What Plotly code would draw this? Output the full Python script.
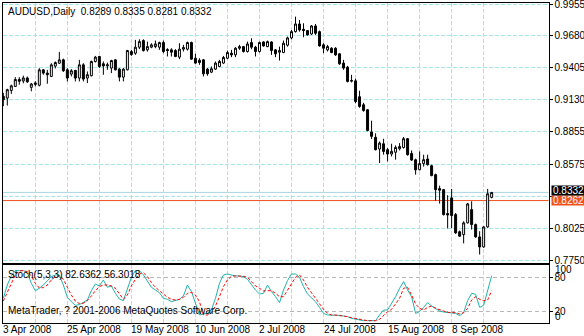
import plotly.graph_objects as go
import pandas as pd

symbol = "AUDUSD,Daily"
start_date = "2008-04-03"

open_ = [0.9160, 0.9145, 0.9210, 0.9245, 0.9305, 0.9292, 0.9318, 0.9237, 0.9262, 0.9255,
         0.9388, 0.9360, 0.9331, 0.9420, 0.9445, 0.9474, 0.9388, 0.9351, 0.9383, 0.9317,
         0.9431, 0.9317, 0.9337, 0.9460, 0.9503, 0.9440, 0.9422, 0.9403, 0.9474, 0.9394,
         0.9325, 0.9388, 0.9545, 0.9531, 0.9583, 0.9640, 0.9560, 0.9583, 0.9588, 0.9583,
         0.9623, 0.9563, 0.9560, 0.9554, 0.9497, 0.9566, 0.9566, 0.9623, 0.9488, 0.9471,
         0.9474, 0.9394, 0.9368, 0.9394, 0.9417, 0.9446, 0.9488, 0.9531, 0.9517, 0.9574,
         0.9588, 0.9546, 0.9623, 0.9583, 0.9546, 0.9628, 0.9588, 0.9628, 0.9560, 0.9540,
         0.9537, 0.9600, 0.9663, 0.9717, 0.9783, 0.9737, 0.9726, 0.9697, 0.9766, 0.9717,
         0.9603, 0.9560, 0.9574, 0.9574, 0.9526, 0.9446, 0.9411, 0.9290, 0.9293, 0.9156,
         0.9087, 0.9044, 0.8853, 0.8807, 0.8706, 0.8751, 0.8700, 0.8663, 0.8678, 0.8708,
         0.8719, 0.8795, 0.8668, 0.8613, 0.8528, 0.8580, 0.8620, 0.8562, 0.8485, 0.8365,
         0.8356, 0.8150, 0.8285, 0.8141, 0.7993, 0.7969, 0.8070, 0.8184, 0.8055, 0.7949,
         0.7863, 0.8035, 0.8289]
high = [0.9190, 0.9225, 0.9260, 0.9325, 0.9325, 0.9338, 0.9330, 0.9275, 0.9290, 0.9402,
        0.9394, 0.9388, 0.9445, 0.9460, 0.9543, 0.9485, 0.9403, 0.9394, 0.9388, 0.9474,
        0.9445, 0.9374, 0.9468, 0.9508, 0.9508, 0.9460, 0.9451, 0.9474, 0.9480, 0.9403,
        0.9403, 0.9560, 0.9560, 0.9646, 0.9651, 0.9651, 0.9631, 0.9617, 0.9640, 0.9631,
        0.9640, 0.9574, 0.9574, 0.9566, 0.9617, 0.9603, 0.9631, 0.9631, 0.9526, 0.9488,
        0.9480, 0.9403, 0.9417, 0.9460, 0.9474, 0.9508, 0.9554, 0.9560, 0.9583, 0.9603,
        0.9594, 0.9631, 0.9660, 0.9594, 0.9631, 0.9634, 0.9640, 0.9634, 0.9566, 0.9588,
        0.9640, 0.9674, 0.9731, 0.9846, 0.9817, 0.9789, 0.9731, 0.9774, 0.9783, 0.9726,
        0.9617, 0.9603, 0.9583, 0.9583, 0.9531, 0.9474, 0.9422, 0.9345, 0.9311, 0.9208,
        0.9104, 0.9050, 0.8950, 0.8841, 0.8771, 0.8794, 0.8715, 0.8751, 0.8737, 0.8757,
        0.8810, 0.8801, 0.8694, 0.8623, 0.8686, 0.8657, 0.8657, 0.8571, 0.8494, 0.8391,
        0.8362, 0.8308, 0.8362, 0.8155, 0.8004, 0.8084, 0.8242, 0.8256, 0.8064, 0.7998,
        0.8041, 0.8362, 0.8335]
low = [0.9075, 0.9080, 0.9180, 0.9240, 0.9260, 0.9272, 0.9275, 0.9203, 0.9245, 0.9245,
       0.9345, 0.9268, 0.9325, 0.9400, 0.9440, 0.9370, 0.9288, 0.9331, 0.9288, 0.9288,
       0.9288, 0.9274, 0.9331, 0.9451, 0.9403, 0.9345, 0.9388, 0.9360, 0.9383, 0.9288,
       0.9288, 0.9383, 0.9508, 0.9517, 0.9566, 0.9545, 0.9545, 0.9574, 0.9574, 0.9560,
       0.9531, 0.9503, 0.9503, 0.9497, 0.9480, 0.9546, 0.9554, 0.9474, 0.9440, 0.9431,
       0.9331, 0.9337, 0.9360, 0.9388, 0.9411, 0.9440, 0.9480, 0.9497, 0.9497, 0.9560,
       0.9537, 0.9537, 0.9566, 0.9503, 0.9537, 0.9588, 0.9583, 0.9517, 0.9497, 0.9468,
       0.9531, 0.9588, 0.9651, 0.9709, 0.9717, 0.9669, 0.9683, 0.9689, 0.9689, 0.9588,
       0.9531, 0.9546, 0.9531, 0.9508, 0.9431, 0.9388, 0.9280, 0.9279, 0.9100, 0.9061,
       0.9027, 0.8857, 0.8792, 0.8694, 0.8585, 0.8657, 0.8600, 0.8642, 0.8614, 0.8694,
       0.8710, 0.8649, 0.8603, 0.8485, 0.8522, 0.8554, 0.8562, 0.8471, 0.8262, 0.8236,
       0.8133, 0.8022, 0.8025, 0.7975, 0.7950, 0.7893, 0.8064, 0.8012, 0.7941, 0.7797,
       0.7855, 0.8027, 0.8281]
close = [0.9130, 0.9217, 0.9250, 0.9305, 0.9290, 0.9318, 0.9285, 0.9266, 0.9275, 0.9388,
         0.9360, 0.9346, 0.9431, 0.9451, 0.9474, 0.9380, 0.9317, 0.9380, 0.9317, 0.9431,
         0.9308, 0.9346, 0.9460, 0.9497, 0.9417, 0.9422, 0.9431, 0.9468, 0.9388, 0.9325,
         0.9394, 0.9554, 0.9520, 0.9583, 0.9631, 0.9554, 0.9588, 0.9603, 0.9611, 0.9623,
         0.9546, 0.9554, 0.9540, 0.9503, 0.9566, 0.9580, 0.9623, 0.9480, 0.9446, 0.9451,
         0.9354, 0.9354, 0.9397, 0.9446, 0.9460, 0.9494, 0.9537, 0.9517, 0.9574, 0.9588,
         0.9546, 0.9611, 0.9583, 0.9546, 0.9623, 0.9594, 0.9631, 0.9554, 0.9526, 0.9554,
         0.9617, 0.9663, 0.9717, 0.9783, 0.9731, 0.9726, 0.9689, 0.9766, 0.9703, 0.9594,
         0.9574, 0.9588, 0.9537, 0.9517, 0.9440, 0.9403, 0.9288, 0.9296, 0.9115, 0.9073,
         0.9038, 0.8866, 0.8815, 0.8700, 0.8757, 0.8685, 0.8663, 0.8686, 0.8720, 0.8728,
         0.8795, 0.8657, 0.8611, 0.8527, 0.8580, 0.8614, 0.8571, 0.8477, 0.8356, 0.8351,
         0.8141, 0.8138, 0.8133, 0.7984, 0.7955, 0.8070, 0.8233, 0.8055, 0.7949, 0.7863,
         0.8035, 0.8320, 0.8332]

stoch_k = [42.6, 66.3, 82.4, 91.9, 91.9, 91.9, 88.3, 69.3, 56.2, 60.4,
           66.3, 74.1, 81.2, 84.2, 84.2, 66.3, 44.4, 36.6, 30.1, 31.3,
           34.9, 39.6, 56.2, 68.1, 64.6, 75.2, 62.2, 64.6, 51.5, 41.4,
           38.4, 58.6, 80.0, 91.9, 91.9, 84.2, 73.5, 62.2, 57.4, 52.7,
           42.6, 40.8, 36.6, 38.4, 40.8, 46.7, 66.3, 54.5, 33.7, 12.9,
           14.7, 15.8, 21.8, 42.6, 69.3, 84.2, 85.9, 83.6, 82.4, 82.4,
           81.2, 76.4, 66.3, 57.4, 50.3, 51.5, 66.3, 54.5, 45.5, 34.9,
           57.4, 74.1, 85.9, 85.9, 80.0, 63.4, 50.3, 43.8, 36.6, 26.5,
           15.8, 12.9, 12.9, 12.9, 12.3, 11.1, 9.9, 6.9, 5.1, 4.0,
           2.8, 2.8, 2.8, 2.8, 12.9, 21.8, 21.8, 32.5, 45.5, 60.4,
           72.3, 57.4, 45.5, 15.8, 18.8, 26.5, 34.9, 28.9, 24.8, 20.0,
           18.2, 17.0, 16.4, 15.8, 11.7, 17.0, 38.4, 51.5, 49.7, 26.5,
           30.1, 54.5, 82.6362]
stoch_d = [37.8, 53.9, 69.3, 84.2, 91.3, 91.9, 90.1, 82.4, 69.3, 61.0,
           61.6, 66.3, 75.2, 81.2, 82.4, 76.4, 62.2, 48.5, 37.8, 33.1,
           33.7, 38.4, 46.7, 56.2, 63.4, 66.3, 66.3, 64.6, 60.4, 50.3,
           40.8, 48.5, 64.6, 76.4, 85.9, 88.3, 81.2, 70.5, 62.2, 56.2,
           50.3, 44.4, 40.8, 39.6, 40.8, 44.4, 51.5, 53.3, 48.5, 36.6,
           12.9, 12.9, 17.0, 28.9, 45.5, 63.4, 75.2, 81.8, 82.4, 82.4,
           81.8, 80.0, 72.3, 64.6, 60.4, 55.6, 56.2, 56.2, 51.5, 45.5,
           45.5, 57.4, 69.3, 80.0, 84.2, 75.2, 62.2, 52.7, 42.6, 32.5,
           23.0, 15.8, 12.9, 12.9, 12.3, 11.7, 9.9, 8.1, 6.3, 5.1,
           4.0, 2.8, 2.8, 2.8, 5.1, 12.9, 18.8, 23.0, 32.5, 42.6,
           60.4, 62.2, 48.5, 32.5, 24.8, 21.8, 26.5, 28.9, 24.8, 21.8,
           20.0, 17.6, 17.0, 17.0, 14.7, 17.0, 24.8, 39.6, 45.5, 40.8,
           38.4, 39.6, 56.3018]

price_ticks = [0.9955, 0.9680, 0.9405, 0.9130, 0.8855, 0.8575, 0.8300, 0.8025, 0.7750]
price_tick_labels = ["0.9955", "0.9680", "0.9405", "0.9130", "0.8855", "0.8575", "", "0.8025", "0.7750"]
stoch_levels = [20, 80]
stoch_level_labels = ["20", "80"]
date_labels = ["3 Apr 2008", "25 Apr 2008", "19 May 2008", "10 Jun 2008",
               "2 Jul 2008", "24 Jul 2008", "15 Aug 2008", "8 Sep 2008"]
bid_level = close[-1]
line_level = 0.8262

W, H = 584, 336
FONT = "Liberation Sans, Arial, sans-serif"
GRID = "#A2E6EA"


def py(p):
    return 1 - p / H


dates = pd.bdate_range(start_date, periods=len(close)).strftime("%Y-%m-%d").tolist()

fig = go.Figure()
fig.add_trace(go.Candlestick(
    x=dates, open=open_, high=high, low=low, close=close,
    increasing=dict(line=dict(color="black", width=1), fillcolor="white"),
    decreasing=dict(line=dict(color="black", width=1), fillcolor="black"),
    whiskerwidth=0, hoverinfo="skip", xaxis="x", yaxis="y"))
fig.add_trace(go.Scatter(x=dates, y=stoch_k, mode="lines",
                         line=dict(color="#20B2AA", width=1), xaxis="x2", yaxis="y2"))
fig.add_trace(go.Scatter(x=dates, y=stoch_d, mode="lines",
                         line=dict(color="#FF0000", width=1, dash="3px,2px"), xaxis="x2", yaxis="y2"))

xdom = [2.5 / W, 548.5 / W]
xcommon = dict(domain=xdom, type="category", range=[-0.2, 136.2],
               tickvals=dates[::8], showticklabels=False, ticks="",
               showgrid=True, gridcolor=GRID, gridwidth=1, griddash="4px,2px",
               showline=True, linecolor="black", linewidth=1, mirror=True, zeroline=False)

# price scale: 0.9955 at y=4px, 0.7750 at y=260px
ppu = (260 - 4) / (0.9955 - 0.7750)
ytop = 0.9955 + (4 - 2.5) / ppu
ybot = 0.7750 - (262.5 - 260) / ppu
# stoch scale: 80 at 277.3px, 20 at 311px
spu = (311 - 277.3) / 60
s_top = 80 + (277.3 - 265) / spu
s_bot = 20 - (322.5 - 311) / spu

fig.update_layout(
    width=W, height=H, autosize=False, template="none",
    margin=dict(l=0, r=0, t=0, b=0, pad=0),
    paper_bgcolor="white", plot_bgcolor="white", showlegend=False,
    font=dict(family=FONT, size=10, color="black"),
    xaxis=dict(**xcommon, anchor="y", rangeslider=dict(visible=False)),
    xaxis2=dict(**xcommon, anchor="y2", matches="x"),
    yaxis=dict(domain=[py(262.5), py(2.5)], range=[ybot, ytop], side="right", anchor="x",
               tickvals=price_ticks, ticktext=price_tick_labels, ticks="outside", ticklen=3,
               tickcolor="black", tickfont=dict(family=FONT, size=10, color="black"),
               ticklabeloverflow="allow",
               showgrid=True, gridcolor=GRID, gridwidth=1, griddash="4px,2px",
               showline=True, linecolor="black", linewidth=1, mirror=True, zeroline=False),
    yaxis2=dict(domain=[py(322.5), py(265)], range=[s_bot, s_top], side="right", anchor="x2",
                tickvals=stoch_levels, ticktext=stoch_level_labels, ticks="outside", ticklen=3,
                tickcolor="black", tickfont=dict(family=FONT, size=10, color="black"),
                ticklabeloverflow="allow",
                showgrid=True, gridcolor="#B8B8B8", gridwidth=1, griddash="4px,3px",
                showline=True, linecolor="black", linewidth=1, mirror=True, zeroline=False),
)

# horizontal price lines
fig.add_shape(type="line", xref="paper", yref="y", x0=xdom[0], x1=xdom[1], y0=bid_level, y1=bid_level,
              line=dict(color="#A8D8DE", width=1), layer="below")
fig.add_shape(type="line", xref="paper", yref="y", x0=xdom[0], x1=xdom[1], y0=line_level, y1=line_level,
              line=dict(color="#F0501E", width=1), layer="below")

ann = []
title = f"{symbol}  {open_[-1]:.4f} {high[-1]:.4f} {low[-1]:.4f} {close[-1]:.4f}"
ann.append(dict(text=title, x=6 / W, y=py(11.5), xref="paper", yref="paper",
                xanchor="left", yanchor="middle", showarrow=False))
ann.append(dict(text=f"Stoch(5,3,3) {stoch_k[-1]:.4f} {stoch_d[-1]:.4f}", x=6 / W, y=py(274),
                xref="paper", yref="paper", xanchor="left", yanchor="middle", showarrow=False))
ann.append(dict(text="MetaTrader, ? 2001-2006 MetaQuotes Software Corp.", x=6 / W, y=py(310),
                xref="paper", yref="paper", xanchor="left", yanchor="middle", showarrow=False))
for k, lab in enumerate(date_labels):
    ann.append(dict(text=lab, x=dates[16 * k], y=py(329.5), xref="x2", yref="paper",
                    xanchor="left", yanchor="middle", showarrow=False, xshift=-2))
# stoch 100/0 labels (clamped inside the window like the terminal does)
ann.append(dict(text="100", x=553 / W, y=py(269.5), xref="paper", yref="paper",
                xanchor="left", yanchor="middle", showarrow=False))
ann.append(dict(text="0", x=553 / W, y=py(316.5), xref="paper", yref="paper",
                xanchor="left", yanchor="middle", showarrow=False))
# price labels with background (stacked edge to edge, as in the terminal)
ann.append(dict(text=f"{line_level:.4f}", x=550.5 / W, y=line_level, xref="paper", yref="y",
                xanchor="left", yanchor="middle", showarrow=False, bgcolor="#F0501E", yshift=0.5,
                font=dict(color="white", size=10, family=FONT), width=33, height=9, borderpad=0))
ann.append(dict(text=f"{bid_level:.4f}", x=550.5 / W, y=bid_level, xref="paper", yref="y",
                xanchor="left", yanchor="middle", showarrow=False, bgcolor="black", yshift=1.5,
                font=dict(color="white", size=10, family=FONT), width=33, height=9, borderpad=0))
fig.update_layout(annotations=ann)

fig.write_html("out.html")
